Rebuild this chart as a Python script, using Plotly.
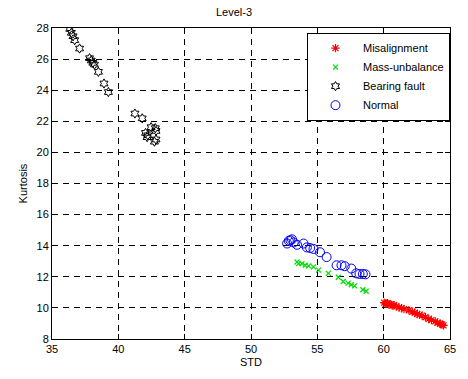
import plotly.graph_objects as go

# Misalignment
mis_x = [60.04, 60.15, 60.29, 60.40, 60.54, 60.65, 60.79, 60.95, 61.16, 61.35, 61.53, 61.90, 62.16, 62.35, 62.53, 62.70, 62.90, 63.15, 63.40, 63.60, 63.89, 64.05, 64.27, 64.40, 64.51]
mis_y = [10.34, 10.28, 10.30, 10.22, 10.23, 10.15, 10.17, 10.10, 10.03, 9.98, 9.92, 9.85, 9.75, 9.70, 9.60, 9.55, 9.50, 9.40, 9.29, 9.22, 9.13, 9.05, 8.98, 8.93, 8.88]
# Mass-unbalance
mu_x = [53.47, 53.59, 53.84, 54.09, 54.34, 54.71, 55.09, 55.83, 56.58, 56.95, 57.32, 57.56, 57.81, 58.43, 58.68]
mu_y = [12.95, 12.85, 12.85, 12.74, 12.70, 12.64, 12.43, 12.22, 11.97, 11.70, 11.59, 11.49, 11.42, 11.17, 11.07]
# Bearing fault
bf_x = [36.34, 36.46, 36.59, 36.71, 37.08, 37.83, 37.96, 38.08, 38.20, 38.50, 38.92, 39.25, 41.25, 41.80, 42.05, 42.22, 42.17, 42.47, 42.79, 42.84, 42.72, 42.84]
bf_y = [27.94, 27.69, 27.47, 27.22, 26.68, 26.06, 25.91, 25.76, 25.65, 25.18, 24.43, 23.88, 22.50, 22.19, 21.25, 21.10, 20.98, 21.62, 21.56, 21.38, 20.69, 20.83]
# Normal
nm_x = [52.72, 52.85, 52.97, 53.09, 53.22, 53.47, 53.96, 54.21, 54.46, 54.71, 55.20, 55.70, 56.45, 56.82, 57.07, 57.56, 57.93, 58.18, 58.43, 58.63]
nm_y = [14.14, 14.31, 14.35, 14.41, 14.21, 14.06, 14.14, 13.89, 13.85, 13.79, 13.58, 13.27, 12.74, 12.74, 12.68, 12.53, 12.22, 12.18, 12.18, 12.16]

x_ticks = [35, 40, 45, 50, 55, 60, 65]
y_ticks = [8, 10, 12, 14, 16, 18, 20, 22, 24, 26, 28]

fig = go.Figure()
fig.add_trace(go.Scatter(x=mis_x, y=mis_y, mode="markers", name="Misalignment",
                         marker=dict(symbol="asterisk-open", size=7, color="#ff0000",
                                     line=dict(color="#ff0000", width=1.2))))
fig.add_trace(go.Scatter(x=mu_x, y=mu_y, mode="markers", name="Mass-unbalance",
                         marker=dict(symbol="x-thin-open", size=5, color="#00dd00",
                                     line=dict(color="#00dd00", width=1.2))))
fig.add_trace(go.Scatter(x=bf_x, y=bf_y, mode="markers", name="Bearing fault",
                         marker=dict(symbol="hexagram-open", size=7, color="black",
                                     line=dict(color="black", width=1))))
fig.add_trace(go.Scatter(x=nm_x, y=nm_y, mode="markers", name="Normal",
                         marker=dict(symbol="circle-open", size=9, color="#0000ff",
                                     line=dict(color="#0000ff", width=1))))

axis_common = dict(showline=True, linecolor="black", linewidth=1, mirror="allticks",
                   ticks="inside", ticklen=5, tickcolor="black",
                   showgrid=True, gridcolor="black", gridwidth=1, griddash="6px,5px",
                   zeroline=False, tickfont=dict(size=11, color="black"))

fig.update_layout(
    width=468, height=379,
    margin=dict(l=52, r=12, t=28, b=32),
    paper_bgcolor="white", plot_bgcolor="white",
    font=dict(family="Liberation Sans, Arial, sans-serif", size=11, color="black"),
    title=dict(text="Level-3", x=0.5, xanchor="center", y=0.967, yanchor="middle",
               font=dict(size=11)),
    xaxis=dict(range=[35, 65], tickvals=x_ticks,
               title=dict(text="STD", standoff=4, font=dict(size=11)), **axis_common),
    yaxis=dict(range=[8, 28], tickvals=y_ticks,
               title=dict(text="Kurtosis", standoff=6, font=dict(size=11)), **axis_common),
    legend=dict(x=1, y=0.985, xanchor="right", yanchor="top",
                bordercolor="black", borderwidth=1, bgcolor="white",
                font=dict(size=11), itemwidth=45, tracegroupgap=0),
    showlegend=True,
)

fig.write_html("out.html")
